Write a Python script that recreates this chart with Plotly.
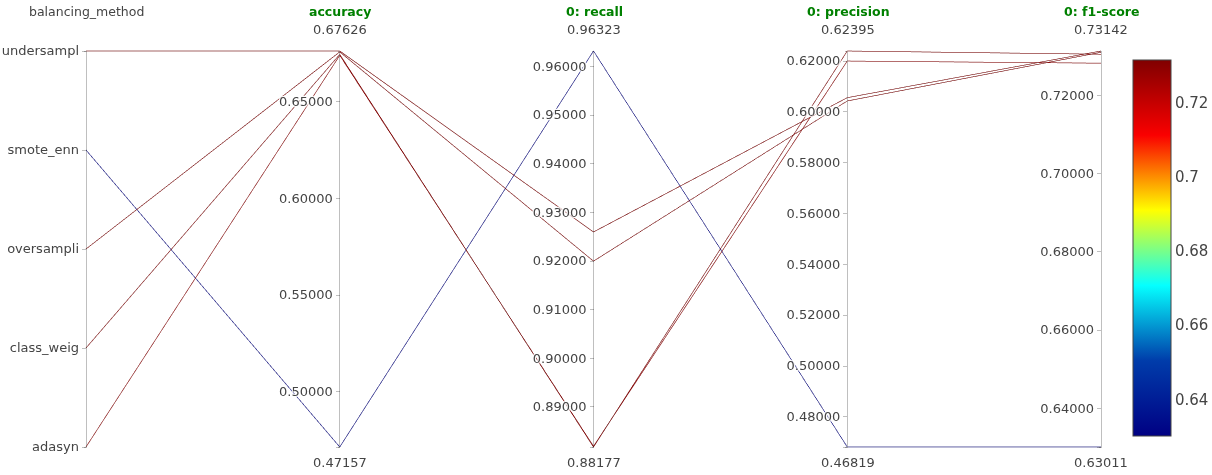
import plotly.graph_objects as go

methods = ["adasyn", "class_weig", "oversampli", "smote_enn", "undersampl"]
method_codes = [0, 1, 2, 3, 4]

# one row per run: balancing method code and metrics
row_method = [4, 2, 1, 0, 3]
accuracy = [0.67626, 0.6758, 0.6745, 0.6740, 0.47157]
recall0 = [0.9260, 0.9200, 0.88177, 0.8819, 0.96323]
precision0 = [0.6056, 0.6043, 0.62395, 0.6200, 0.46819]
f1_0 = [0.73142, 0.7311, 0.7306, 0.7283, 0.63011]

acc_ticks = [0.50, 0.55, 0.60, 0.65]
rec_ticks = [0.89, 0.90, 0.91, 0.92, 0.93, 0.94, 0.95, 0.96]
prec_ticks = [0.48, 0.50, 0.52, 0.54, 0.56, 0.58, 0.60, 0.62]
f1_ticks = [0.64, 0.66, 0.68, 0.70, 0.72]

L, R, T, B = 86, 111, 49, 26
W, H = 1212 - L - R, 475 - T - B
OFF = 0  # page offset of the figure (body margin removed)
axis_px = [86, 340, 594, 848, 1101]
FONT = dict(size=13, color="#444")
TICKFONT = dict(size=13, color="#444")


def green(s):
    return "<b><span style='color:green'>" + s + "</span></b>"


def num_dim(vals, ticks):
    lo, hi = min(vals), max(vals)
    tv = [lo] + ticks + [hi]
    tt = [""] + ["%.5f" % v for v in ticks] + [""]
    return dict(label="", values=vals, tickvals=tv, ticktext=tt, range=[lo, hi])


num_series = [accuracy, recall0, precision0, f1_0]
num_ticks = [acc_ticks, rec_ticks, prec_ticks, f1_ticks]
num_labels = ["accuracy", "0: recall", "0: precision", "0: f1-score"]

dims = [dict(label="", values=row_method, tickvals=method_codes, ticktext=methods)]
for vals, ticks in zip(num_series, num_ticks):
    dims.append(num_dim(vals, ticks))

fig = go.Figure(go.Parcoords(
    line=dict(color=f1_0, colorscale="Jet", showscale=True,
              colorbar=dict(thickness=38, tickfont=dict(size=15, color="#444"),
                            outlinecolor="#444", outlinewidth=1,
                            len=0.94, ypad=0, y=0.5025, yanchor="middle",
                            xpad=0, xanchor="left",
                            x=(1133 - OFF - L) / W)),
    dimensions=dims,
    labelfont=FONT,
    tickfont=TICKFONT,
    rangefont=FONT,
))


def yp(page_y):
    return (T + H - (page_y - OFF)) / H


def xp(page_x):
    return (page_x - OFF - L) / W


titles = ["balancing_method"] + [green(s) for s in num_labels]
annotations = []
for px, title in zip(axis_px, titles):
    annotations.append(dict(x=xp(px), y=yp(12), xref="paper", yref="paper",
                            text=title, showarrow=False,
                            font=dict(size=12.5, color="#444"),
                            xanchor="center", yanchor="middle"))
for px, vals in zip(axis_px[1:], num_series):
    annotations.append(dict(x=xp(px), y=yp(30), xref="paper", yref="paper",
                            text="%.5f" % max(vals), showarrow=False,
                            font=FONT, xanchor="center", yanchor="middle"))
    annotations.append(dict(x=xp(px), y=yp(463), xref="paper", yref="paper",
                            text="%.5f" % min(vals), showarrow=False,
                            font=FONT, xanchor="center", yanchor="middle"))

fig.update_layout(
    width=1212, height=475,
    margin=dict(l=L, r=R, t=T, b=B, autoexpand=False),
    font=dict(family="DejaVu Sans, Verdana, sans-serif", color="#444"),
    paper_bgcolor="white", plot_bgcolor="white",
    annotations=annotations,
)

fig.write_html("out.html",
               config={"displayModeBar": False},
               post_script="document.body.style.margin='0';"
                           "document.body.style.overflow='hidden';")
